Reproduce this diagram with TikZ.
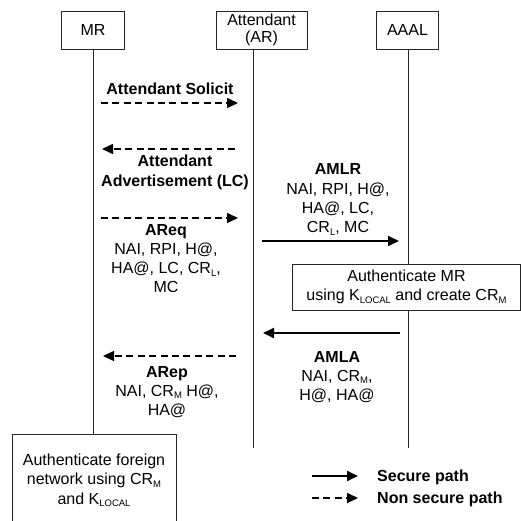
\documentclass[tikz,border=0pt]{standalone}
\usepackage{fontspec}
\setmainfont{Liberation Sans}
\usetikzlibrary{arrows.meta}
\newcommand\lsub[1]{\raisebox{-2.5pt}{\fontsize{9.5}{10}\selectfont #1}}
\newcommand\mlines[1]{\begin{tabular}[t]{@{}c@{}}#1\end{tabular}}
\begin{document}
\begin{tikzpicture}[x=1pt,y=-1pt,
  every node/.style={font=\fontsize{16}{19.3}\selectfont, inner sep=0pt},
  actor/.style={draw=black!85, line width=0.8pt, minimum height=38pt, align=center},
  life/.style={draw=black!85, line width=0.8pt},
  procbox/.style={draw=black!85, line width=0.8pt, fill=white},
  sec/.style={line width=1.8pt, -{Triangle[length=11pt,width=10pt]}},
  nsec/.style={line width=1.6pt, dash pattern=on 7pt off 4.4pt, -{Triangle[length=11pt,width=10pt]}},
  lbl/.style={anchor=base},
  leg/.style={anchor=base west, font=\fontsize{16}{19.3}\selectfont\bfseries}
]
\useasboundingbox (0,0) rectangle (521,521);

% header boxes
\node[actor, minimum width=62.5pt] (mr) at (93,30) {MR};
\node[actor, minimum width=91pt, font=\fontsize{16}{17.5}\selectfont] (ar) at (261.5,30) {Attendant\\(AR)};
\node[actor, minimum width=62.5pt] (aaal) at (407.5,30) {AAAL};

% bottom box
\node[procbox, anchor=north, minimum width=164pt, inner ysep=17.5pt] (bb) at (94,434)
  {\mlines{Authenticate foreign\\network using CR\lsub{M}\\and K\lsub{LOCAL}}};

% lifelines
\coordinate (arTop) at (253,49);
\coordinate (arBot) at (253,448);
\coordinate (aaTop) at (408.7,49);
\coordinate (aaBot) at (408.7,448);
\draw[life] (mr.south) -- (mr.south |- bb.north);
\draw[life] (arTop) -- (arBot);
\draw[life] (aaTop) -- (aaBot);

% authenticate MR box
\node[procbox, minimum width=228.5pt, minimum height=46pt] (authmr) at (406.5,287)
  {\mlines{Authenticate MR\\using K\lsub{LOCAL} and create CR\lsub{M}}};
\path (authmr.center) ++(0,0);

% messages
\coordinate (m1a) at (101,103); \coordinate (m1b) at (238,103);
\draw[nsec] (m1a) -- (m1b);
\node[lbl] (l1) at (170,95) {\textbf{Attendant Solicit}};

\coordinate (m2a) at (235,149); \coordinate (m2b) at (102,149);
\draw[nsec] (m2a) -- (m2b);
\node[lbl] (l2) at (175,167) {\mlines{\textbf{Attendant}\\\textbf{Advertisement (LC)}}};

\coordinate (m3a) at (101,218); \coordinate (m3b) at (238,218);
\draw[nsec] (m3a) -- (m3b);
\node[lbl] (l3) at (166,235) {\mlines{\textbf{AReq}\\NAI, RPI, H@,\\HA@, LC, CR\lsub{L},\\MC}};

\coordinate (m4a) at (262,241); \coordinate (m4b) at (399,241);
\draw[sec] (m4a) -- (m4b);
\node[lbl] (l4) at (338,175) {\mlines{\textbf{AMLR}\\NAI, RPI, H@,\\HA@, LC,\\CR\lsub{L}, MC}};

\coordinate (m5a) at (400,333); \coordinate (m5b) at (263,333);
\draw[sec] (m5a) -- (m5b);
\node[lbl] (l5) at (337,362) {\mlines{\textbf{AMLA}\\NAI, CR\lsub{M},\\H@, HA@}};

\coordinate (m6a) at (236,356); \coordinate (m6b) at (103,356);
\draw[nsec] (m6a) -- (m6b);
\node[lbl] (l6) at (167,377) {\mlines{\textbf{ARep}\\NAI, CR\lsub{M} H@,\\HA@}};

% legend
\coordinate (g1a) at (312,476); \coordinate (g1b) at (358,476);
\draw[sec] (g1a) -- (g1b);
\node[leg] (g1) at (377,481) {Secure path};
\coordinate (g2a) at (312,498); \coordinate (g2b) at (358,498);
\draw[nsec] (g2a) -- (g2b);
\node[leg] (g2) at (377,503) {Non secure path};
\end{tikzpicture}
\end{document}
